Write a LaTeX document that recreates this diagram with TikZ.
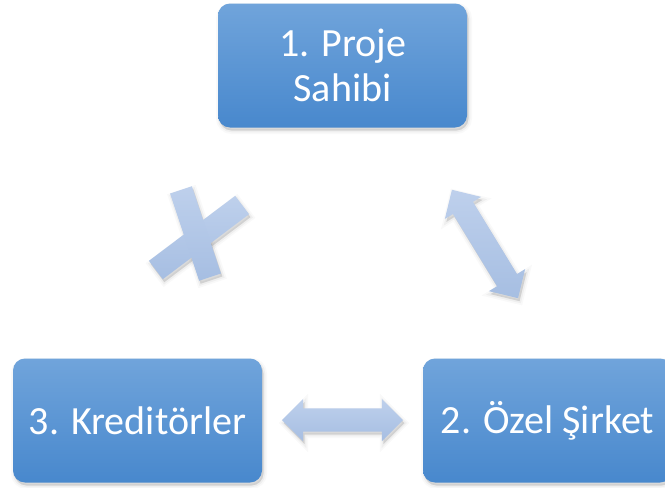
\documentclass[tikz,border=0pt]{standalone}
\usepackage{fontspec}
\setmainfont{Carlito}
\usetikzlibrary{shapes.arrows,shadows}
\definecolor{boxtop}{RGB}{112,164,219}
\definecolor{boxbot}{RGB}{72,136,205}
\definecolor{arrtop}{RGB}{190,208,236}
\definecolor{arrbot}{RGB}{166,190,226}
\begin{document}
\begin{tikzpicture}[x=1pt,y=-1pt,
  softshadow/.style={
    general shadow={draw=black, line width=7pt, opacity=0.025, shadow xshift=1.5pt, shadow yshift=-3pt},
    general shadow={draw=black, line width=3.5pt, opacity=0.04, shadow xshift=1.5pt, shadow yshift=-3pt},
    general shadow={fill=black, opacity=0.12, shadow xshift=1.5pt, shadow yshift=-3pt}},
  party/.style={rectangle, rounded corners=12pt, minimum width=249pt, minimum height=124pt,
    inner sep=0pt, top color=boxtop, bottom color=boxbot, text=white, align=center,
    font=\fontsize{40}{45}\selectfont, softshadow},
  link/.style={double arrow, double arrow head extend=9.5pt, inner xsep=0pt, inner ysep=11.5pt,
    top color=arrtop, bottom color=arrbot, softshadow},
  barshape/.style={rectangle, minimum height=23pt, inner sep=0pt},
  barshade/.style={barshape, softshadow},
  bar/.style={barshape, top color=arrtop, bottom color=arrbot}
]
\useasboundingbox (0,0) rectangle (665,488);
\clip (0,0) rectangle (665,488);
\fill[white] (0,0) rectangle (665,488);

% the three parties
\node[party] (owner)    at (342.5,65.5)  {1. Proje\\Sahibi};
\node[party] (company)  at (547.5,420.5) {2. Özel Şirket};
\node[party] (lenders)  at (137.5,420.5) {3. Kreditörler};

% two-way links
\node[link, minimum height=121pt] (lc) at (342.5,420) {};
\node[link, minimum height=127pt, rotate=-58.6] (oc) at (485,244) {};

% crossed-out link between owner and lenders: shadows first, then both bars
\node[barshade, minimum width=108pt, rotate=37] (xbs) at (199,237.5) {};
\node[barshade, minimum width=92pt, rotate=-71.6] (xas) at (195.5,233.5) {};
\node[bar, minimum width=108pt, rotate=37] (xb) at (199,237.5) {};
\node[bar, minimum width=92pt, rotate=-71.6] (xa) at (195.5,233.5) {};
\end{tikzpicture}
\end{document}
